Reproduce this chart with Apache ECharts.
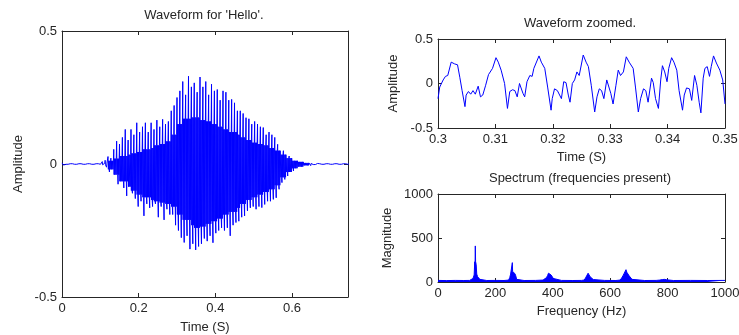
<!DOCTYPE html>
<html>
<head>
<meta charset="utf-8">
<title>Waveform for 'Hello'</title>
<script src="https://cdn.jsdelivr.net/npm/echarts/dist/echarts.min.js"></script>
<style>
  html, body { margin: 0; padding: 0; background: #fff; }
  #chart { width: 739px; height: 335px; }
</style>
</head>
<body>
<div id="chart"></div>
<script>
// whole word: spike max / min per pitch period (7.5 ms)
const wavePeriod = 0.0075;
const waveUp = [
  0.004, 0.003, 0.005, 0.003, 0.004, 0.006, 0.003, 0.005, 0.004, 0.006,
  0.005, 0.004, 0.006, 0.007, 0.009, 0.014, 0.028, 0.022, 0.055, 0.086,
  0.075, 0.10, 0.13, 0.09, 0.13, 0.11, 0.155, 0.12, 0.14, 0.155,
  0.12, 0.155, 0.13, 0.165, 0.14, 0.168, 0.15, 0.16, 0.2, 0.22,
  0.25, 0.275, 0.31, 0.26, 0.33, 0.29, 0.305, 0.27, 0.327, 0.29,
  0.31, 0.26, 0.3, 0.275, 0.28, 0.24, 0.275, 0.27, 0.24, 0.243,
  0.23, 0.2, 0.2, 0.19, 0.174, 0.17, 0.15, 0.16, 0.15, 0.14,
  0.137, 0.11, 0.12, 0.11, 0.10, 0.074, 0.055, 0.05, 0.036, 0.03,
  0.024, 0.018, 0.012, 0.014, 0.01, 0.008, 0.007, 0.006, 0.005, 0.006,
  0.004, 0.005, 0.004, 0.003, 0.005, 0.004, 0.003, 0.004, 0.003, 0.004
];
const waveDown = [
  -0.004, -0.005, -0.003, -0.004, -0.005, -0.004, -0.003, -0.004, -0.006, -0.004,
  -0.005, -0.006, -0.005, -0.006, -0.008, -0.012, -0.03, -0.02, -0.045, -0.076,
  -0.06, -0.09, -0.12, -0.08, -0.11, -0.13, -0.16, -0.14, -0.195, -0.15,
  -0.165, -0.16, -0.15, -0.2, -0.16, -0.21, -0.17, -0.19, -0.19, -0.23,
  -0.25, -0.277, -0.295, -0.27, -0.32, -0.3, -0.323, -0.31, -0.3, -0.28,
  -0.29, -0.27, -0.296, -0.26, -0.25, -0.24, -0.25, -0.24, -0.27, -0.23,
  -0.22, -0.215, -0.2, -0.195, -0.176, -0.165, -0.16, -0.17, -0.16, -0.164,
  -0.152, -0.14, -0.14, -0.133, -0.127, -0.095, -0.07, -0.058, -0.045, -0.03,
  -0.026, -0.02, -0.014, -0.01, -0.012, -0.009, -0.006, -0.007, -0.006, -0.005,
  -0.005, -0.004, -0.005, -0.004, -0.003, -0.005, -0.004, -0.003, -0.004, -0.003
];
// dense inner band, one value per 15 ms
const coreStep = 0.015;
const coreHi = [
  0.001, 0.001, 0.001, 0.001, 0.001, 0.001, 0.001, 0.003, 0.012, 0.02,
  0.03, 0.035, 0.04, 0.045, 0.055, 0.06, 0.07, 0.075, 0.085, 0.11,
  0.15, 0.17, 0.175, 0.175, 0.165, 0.16, 0.15, 0.14, 0.13, 0.12,
  0.11, 0.1, 0.09, 0.08, 0.075, 0.07, 0.06, 0.05, 0.035, 0.022,
  0.012, 0.008, 0.004, 0.002, 0.001, 0.001, 0.001, 0.001, 0.001, 0.001
];
const coreLo = [
  -0.001, -0.001, -0.001, -0.001, -0.001, -0.001, -0.001, -0.003, -0.02, -0.04,
  -0.065, -0.085, -0.1, -0.115, -0.125, -0.135, -0.14, -0.145, -0.15, -0.16,
  -0.19, -0.21, -0.23, -0.24, -0.235, -0.225, -0.215, -0.205, -0.19, -0.18,
  -0.165, -0.15, -0.135, -0.125, -0.115, -0.105, -0.095, -0.08, -0.05, -0.03,
  -0.016, -0.01, -0.005, -0.002, -0.001, -0.001, -0.001, -0.001, -0.001, -0.001
];

// zoomed section 0.30 - 0.35 s
const zoomTime = [
  0.3000, 0.3003, 0.3009, 0.3013, 0.3017, 0.3023, 0.3029, 0.3034, 0.3038, 0.3042,
  0.3047, 0.3049, 0.3053, 0.3057, 0.3061, 0.3065, 0.3070, 0.3074, 0.3078, 0.3083,
  0.3088, 0.3091, 0.3095, 0.3101, 0.3105, 0.3110, 0.3116, 0.3121, 0.3125, 0.3130,
  0.3134, 0.3138, 0.3142, 0.3145, 0.3148, 0.3151, 0.3155, 0.3160, 0.3164, 0.3167,
  0.3176, 0.3180, 0.3186, 0.3191, 0.3197, 0.3199, 0.3203, 0.3208, 0.3211, 0.3215,
  0.3219, 0.3223, 0.3227, 0.3230, 0.3234, 0.3238, 0.3242, 0.3246, 0.3253, 0.3258,
  0.3262, 0.3267, 0.3273, 0.3277, 0.3281, 0.3285, 0.3289, 0.3294, 0.3297, 0.3301,
  0.3305, 0.3310, 0.3314, 0.3318, 0.3323, 0.3328, 0.3333, 0.3340, 0.3344, 0.3349,
  0.3353, 0.3358, 0.3362, 0.3366, 0.3372, 0.3375, 0.3379, 0.3384, 0.3388, 0.3391,
  0.3395, 0.3399, 0.3402, 0.3407, 0.3411, 0.3416, 0.3420, 0.3426, 0.3429, 0.3433,
  0.3438, 0.3442, 0.3447, 0.3451, 0.3455, 0.3458, 0.3462, 0.3465, 0.3469, 0.3473,
  0.3476, 0.3480, 0.3485, 0.3491, 0.3496, 0.3500
];
const zoomAmp = [
  -0.17, -0.04, 0.04, 0.08, 0.09, 0.24, 0.22, 0.21, 0.07, -0.08,
  -0.26, -0.13, -0.09, -0.12, -0.08, -0.12, -0.03, -0.15, -0.13, -0.02,
  0.10, 0.09, 0.17, 0.29, 0.24, 0.15, 0.00, -0.28, -0.09, -0.07,
  -0.08, -0.15, 0.00, 0.02, -0.11, -0.15, 0.02, 0.09, 0.08, 0.17,
  0.31, 0.24, 0.17, -0.04, -0.30, -0.17, -0.06, -0.08, -0.07, -0.17,
  0.02, 0.01, -0.13, -0.21, 0.00, 0.04, 0.13, 0.09, 0.32, 0.24,
  0.19, -0.02, -0.32, -0.15, -0.06, -0.08, -0.17, 0.04, 0.02, -0.11,
  -0.23, -0.02, 0.15, 0.09, 0.13, 0.30, 0.24, 0.17, -0.04, -0.32,
  -0.17, -0.06, -0.08, -0.21, 0.06, 0.01, -0.17, -0.28, 0.04, 0.20,
  0.13, 0.02, 0.17, 0.29, 0.24, 0.15, -0.08, -0.30, -0.13, -0.05,
  -0.06, -0.19, 0.09, -0.02, -0.21, -0.33, 0.06, 0.17, 0.19, 0.08,
  0.19, 0.31, 0.23, 0.15, 0.04, -0.23
];

// spectrum
const specFreq = [
  0, 30, 60, 90, 110, 116, 122, 126, 128, 129, 130, 131, 133, 135, 138, 142, 146, 151, 170, 200,
  230, 246, 250, 253, 256, 258, 259, 260, 264, 268, 271, 274, 278, 300, 340, 366, 372, 378, 382, 385,
  387, 390, 394, 398, 402, 407, 430, 470, 500, 509, 514, 518, 521, 523, 526, 530, 535, 541, 547, 580,
  620, 634, 640, 645, 649, 652, 655, 658, 662, 666, 671, 676, 680, 720, 760, 773, 778, 782, 786, 790,
  794, 797, 800, 820, 880, 940, 1000
];
const specMag = [
  18, 16, 18, 17, 18, 22, 40, 80, 230, 150, 410, 230, 200, 90, 60, 50, 30, 22, 17, 18,
  17, 22, 50, 90, 100, 110, 220, 120, 105, 95, 70, 30, 20, 17, 18, 22, 30, 50, 75, 100,
  120, 95, 80, 60, 40, 22, 18, 17, 18, 22, 45, 70, 85, 100, 80, 60, 40, 28, 20, 18,
  17, 22, 45, 75, 100, 115, 140, 110, 90, 70, 50, 30, 20, 17, 18, 22, 35, 28, 38, 30,
  36, 25, 20, 17, 18, 17, 18
];

// each period: spike up, a few swings inside the core band, spike down
const waveData = [];
waveUp.forEach((v, i) => {
  const t = i * wavePeriod;
  const c = Math.min(Math.floor(t / coreStep), coreHi.length - 1);
  const seq = [v, coreLo[c], coreHi[c], coreLo[c], waveDown[i], coreHi[c], coreLo[c], coreHi[c]];
  seq.forEach((y, j) => waveData.push([t + wavePeriod * j / seq.length, y]));
});
const zoomData = zoomTime.map((t, i) => [t, zoomAmp[i]]);
const specData = specFreq.map((f, i) => [f, specMag[i]]);

const ink = '#262626';
const blue = '#0000ff';
const font = 'Liberation Sans, Arial, sans-serif';

function axisPair(kind, gridIndex, min, max, interval, name, nameGap, showMax, formatter) {
  const base = {
    type: 'value', gridIndex, min, max, interval,
    splitLine: { show: false },
    axisLine: { onZero: false, lineStyle: { color: ink, width: 1 } },
    axisTick: { inside: true, length: 4, lineStyle: { color: ink } }
  };
  const label = { color: ink, fontSize: 13, fontFamily: font, margin: 5, showMaxLabel: showMax };
  if (formatter) label.formatter = formatter;
  const main = Object.assign({}, base, {
    position: kind === 'x' ? 'bottom' : 'left',
    name, nameLocation: 'middle', nameGap,
    nameTextStyle: { color: ink, fontSize: 13, fontFamily: font },
    axisLabel: label
  });
  const other = Object.assign({}, base, {
    position: kind === 'x' ? 'top' : 'right',
    axisLabel: { show: false }
  });
  return [main, other];
}

const plain = v => String(v);

const option = {
  animation: false,
  backgroundColor: '#fff',
  grid: [
    { left: 62, top: 31, width: 286, height: 266, outerBoundsMode: 'none' },
    { left: 438, top: 39, width: 287, height: 89, outerBoundsMode: 'none' },
    { left: 438, top: 194, width: 287, height: 88, outerBoundsMode: 'none' }
  ],
  xAxis: [
    ...axisPair('x', 0, 0, 0.746, 0.2, 'Time (S)', 24, false),
    ...axisPair('x', 1, 0.3, 0.35, 0.01, 'Time (S)', 23, true),
    ...axisPair('x', 2, 0, 1000, 200, 'Frequency (Hz)', 23, true, plain)
  ],
  yAxis: [
    ...axisPair('y', 0, -0.5, 0.5, 0.5, 'Amplitude', 37, true),
    ...axisPair('y', 1, -0.5, 0.5, 0.5, 'Amplitude', 38, true),
    ...axisPair('y', 2, 0, 1000, 500, 'Magnitude', 44, true, plain)
  ],
  graphic: [
    { type: 'text', x: 204, y: 15, style: { text: "Waveform for 'Hello'.", fill: ink, font: '13px ' + font, textAlign: 'center', textVerticalAlign: 'middle' } },
    { type: 'text', x: 580, y: 23, style: { text: 'Waveform zoomed.', fill: ink, font: '13px ' + font, textAlign: 'center', textVerticalAlign: 'middle' } },
    { type: 'text', x: 580, y: 178, style: { text: 'Spectrum (frequencies present)', fill: ink, font: '13px ' + font, textAlign: 'center', textVerticalAlign: 'middle' } }
  ],
  series: [
    {
      type: 'line', xAxisIndex: 0, yAxisIndex: 0, data: waveData,
      symbol: 'none', sampling: null, lineStyle: { color: blue, width: 1 }
    },
    {
      type: 'line', xAxisIndex: 2, yAxisIndex: 2, data: zoomData,
      symbol: 'none', lineStyle: { color: blue, width: 1 }
    },
    {
      type: 'line', xAxisIndex: 4, yAxisIndex: 4, data: specData,
      symbol: 'none', lineStyle: { color: blue, width: 1 },
      areaStyle: { color: blue, opacity: 1 }
    }
  ]
};

const chart = echarts.init(document.getElementById('chart'), null, { renderer: 'canvas' });
chart.setOption(option);
</script>
</body>
</html>
